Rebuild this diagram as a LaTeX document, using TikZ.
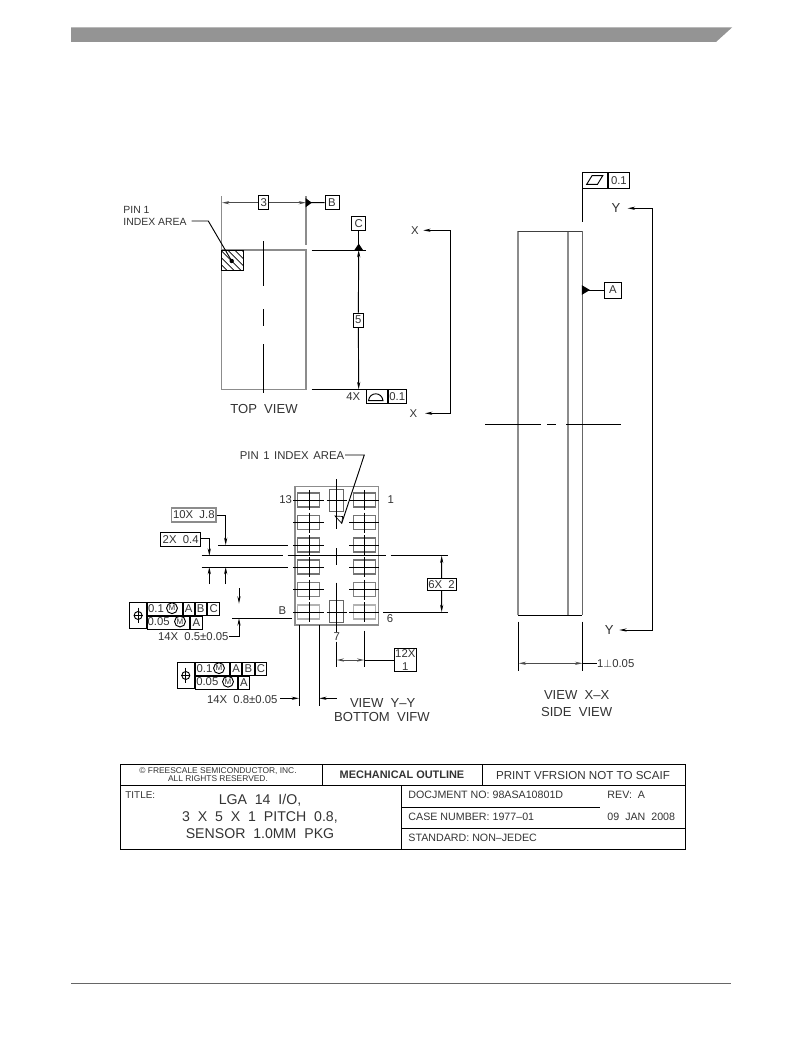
\documentclass[tikz,border=0pt]{standalone}
\usepackage{fontspec}
\setmainfont{Liberation Sans}
\usetikzlibrary{positioning,arrows.meta}

\begin{document}
\begin{tikzpicture}[x=0.75pt, y=-0.75pt, line width=0.7pt,
    lab/.style = {inner sep=0, text=black!80, font=\fontsize{8.5}{10}\selectfont},
    big/.style = {inner sep=0, text=black!80, font=\fontsize{9.8}{12}\selectfont},
    ttl/.style = {inner sep=0, text=black!80, font=\fontsize{10.6}{12}\selectfont},
    sml/.style = {inner sep=0, text=black!80, font=\fontsize{8}{9}\selectfont, anchor=west},
    tiny/.style = {inner sep=0, text=black!80, font=\fontsize{6.3}{7}\selectfont},
    boxed/.style = {lab, draw, rectangle, minimum width=#1*0.75pt, minimum height=10.5pt},
    cell/.style 2 args = {lab, draw, rectangle, anchor=north west, minimum width=#1*0.75pt, minimum height=#2*0.75pt},
    mm/.style = {lab, draw, circle, inner sep=0.6pt, font=\fontsize{6}{6}\selectfont},
    outl/.style = {draw=black!45, line width=1pt},
    pad/.style = {draw=black!#1, line width=1pt},
    tip/.style = {-{Stealth[length=5.5pt,width=2.4pt]}},
    tips/.style = {{Stealth[length=5.5pt,width=2.4pt]}-{Stealth[length=5.5pt,width=2.4pt]}},
    datum/.style = {fill=black, draw=black}]

\useasboundingbox (0,0) rectangle (802,1038);

% page furniture
\fill[black!42] (71,27.5) -- (732,27.5) -- (716,42) -- (71,42) -- cycle;
\draw[black!60] (71,983) -- (731,983);

% top view
\draw[outl] (221.7,250) rectangle (306,389.3);
\draw[outl] (221.7,196) -- (221.7,250);
\draw[outl] (306,196) -- (306,245);
\begin{scope}
\clip (221.7,250) rectangle (243.7,270.7);
\foreach \i in {-22,-15,...,20}
    \draw[line width=0.5pt] (221.7+\i,250) -- (221.7+\i+22,272);
\end{scope}
\draw (221.7,250) rectangle (243.7,270.7);
\draw (263.3,241) -- (263.3,286) (263.3,309) -- (263.3,326) (263.3,344) -- (263.3,393);

\node[lab, anchor=west, font=\fontsize{7.8}{10}\selectfont] (pin) at (123,210) {PIN 1};
\node[lab, anchor=west, font=\fontsize{7.8}{10}\selectfont] (idx) at (123,222) {INDEX AREA};
\coordinate (dot) at (231.7,261);
\coordinate (lead) at (191.7,221);
\fill (dot) circle (2.2);
\draw (lead) -- (208.3,221) -- (dot);

\node[boxed=10] (b3) at (263.7,202.7) {3};
\coordinate (d3l) at (222,202.7);
\coordinate (d3r) at (306,202.7);
\draw[tip, black!70] (b3) -- (d3l);
\draw[tip, black!70] (b3) -- (d3r);
\node[boxed=14] (bB) at (332,202.5) {B};
\draw (bB) -- (d3r);
\fill[datum] (306,199) -- (311,202.7) -- (306,206.4) -- cycle;

\node[boxed=14, minimum height=10.5pt] (bC) at (358.7,223.7) {C};
\coordinate (ct) at (358.7,250);
\coordinate (cb) at (358.7,389.3);
\draw (bC) -- (ct);
\fill[datum] (355,250) -- (358.7,244.5) -- (362.4,250) -- cycle;
\draw (311.7,250) -- (365.7,250);
\draw (311.7,389.3) -- (365.7,389.3);
\node[boxed=10] (b5) at (358.3,320) {5};
\draw[tip] (b5) -- (ct);
\draw[tip] (b5) -- (cb);

\node[cell={21}{14}] (pr1) at (365.7,389.3) {};
\node[cell={18.3}{14}] (pr2) at (pr1.north east) {0.1};
\node[lab, left=5 of pr1] (n4x) {4X};
\draw (368.5,400.7) .. controls (369.5,391.5) and (382,391.5) .. (383,400.7) -- cycle;
\node[big] (top) at (264,409.3) {TOP\ \ VIEW};

\node[lab] (x1) at (415,230.3) {X};
\node[lab] (x2) at (413.3,413.3) {X};
\coordinate (xt) at (450.7,230.3);
\coordinate (xb) at (450.7,413.3);
\draw[tip] (xt) -- (423.3,230.3);
\draw[tip] (xb) -- (425,413.3);
\draw (xt) -- (xb);

% side view
\draw[outl] (518,231) -- (518,615.3);
\draw[outl] (568,231) -- (568,615.3);
\draw[draw=black!60, line width=1pt] (582.3,231) -- (582.3,615.3);
\draw[black!75] (518,231) -- (582.3,231);
\draw (518,615.3) -- (582.3,615.3);
\draw (485,424) -- (541,424) (547,424) -- (556,424) (566,424) -- (621,424);

\node[cell={24.4}{16.6}] (fl1) at (582.3,171.7) {};
\node[cell={21.6}{16.6}] (fl2) at (fl1.north east) {0.1};
\draw (586.7,184.3) -- (592,175.7) -- (602.7,175.7) -- (597.5,184.3) -- cycle;
\draw (582.3,188.3) -- (582.3,221.7);

\node[boxed=17, minimum height=12pt] (bA) at (613,290) {A};
\coordinate (da) at (582.3,290);
\draw (bA) -- (da);
\fill[datum] (582.3,286) -- (589,290) -- (582.3,294) -- cycle;

\node[big] (y1) at (616,207.7) {Y};
\node[big] (y2) at (609.3,630) {Y};
\coordinate (yt) at (652.7,208.3);
\coordinate (yb) at (652.7,630);
\draw[tip] (yt) -- (627.7,208.3);
\draw[tip] (yb) -- (619.3,630);
\draw (yt) -- (yb);

\draw (518.7,621.7) -- (518.7,671);
\draw (582.3,621.7) -- (582.3,671);
\coordinate (sl) at (518.7,663.3);
\coordinate (sr) at (582.3,663.3);
\draw[tips, black!70] (sl) -- (sr);
\node[lab, anchor=west] (st) at (596.7,663.3) {1$\perp$0.05};
\draw (sr) -- (st.west);
\node[big] (vx) at (576.7,695) {VIEW\ \ X–X};
\node[big] (sv) at (576.7,711.7) {SIDE\ \ VIEW};

% bottom view
\draw[outl] (295,486.7) rectangle (378.3,625);
\foreach \r/\s in {500/55,522.5/55,545/55,567/55,589.5/50,612/30} {
    \draw[pad=\s] (297.7,\r-7) rectangle (319.3,\r+7);
    \draw[pad=\s] (353.3,\r-7) rectangle (375.7,\r+7);
    \draw (293,\r) -- (324,\r) (309.3,\r-10) -- (309.3,\r+10);
    \draw (349.3,\r) -- (379.3,\r) (364.3,\r-10) -- (364.3,\r+10);
}
\draw[pad=60] (329.3,489.3) rectangle (343.3,511.7);
\draw[pad=60] (329.3,600.7) rectangle (343.3,622.7);
\draw (326.7,500) -- (346.7,500) (326.7,612) -- (346.7,612);
\draw (336.7,479.3) -- (336.7,529.3) (336.7,548.3) -- (336.7,565) (336.7,582.7) -- (336.7,631.7);

\node[lab] (pa) at (292,455.7) {PIN\hspace{0.4em}1\hspace{0.4em}INDEX\hspace{0.4em}AREA};
\coordinate (pb) at (341.7,523.3);
\draw (345,455) -- (364.3,455) -- (pb);
\draw[line width=0.5pt] (335,516) -- (342.7,516.5) -- (pb) -- cycle;

\node[lab] (n13) at (285.7,499.7) {13};
\node[lab] (n1) at (390.7,500) {1};
\node[lab] (nB) at (282.3,610.7) {B};
\node[lab] (n6) at (390,619) {6};
\node[lab] (n7) at (336.7,636.7) {7};

\draw (201.7,555.7) -- (282.7,555.7) (287.7,555.7) -- (385.7,555.7) (390.7,555.7) -- (448.3,555.7);
\draw (218.3,545) -- (287.7,545);
\draw (201.7,567) -- (287.7,567);
\draw (383.3,612) -- (448.3,612);
\draw (232.3,618.3) -- (291.7,618.3);

\node[boxed=44.3, draw=black!45, line width=1pt] (b10) at (193.8,515) {10X\ \ J.8};
\draw[tip] (b10.east) -- (225.7,515) -- (225.7,545);
\node[boxed=40] (b2x) at (180.7,539.7) {2X\ \ 0.4};
\coordinate (l2x) at (200.7,538.3);
\draw[tip] (l2x) -- (209.3,538.3) -- (209.3,555.7);
\draw[tip] (209.3,584) -- (209.3,567);
\draw[tip] (225.7,584) -- (225.7,567);
\draw[tip] (239,588.3) -- (239,603.6);
\node[lab, anchor=east] (w05) at (229,636.7) {14X\ \ 0.5±0.05};
\draw[tip] (w05.east) -- (239,636.7) -- (239,618.3);

\node[boxed=29, minimum height=9pt] (b6x) at (441.5,584.3) {6X\ \ 2};
\coordinate (d6t) at (441.7,555.7);
\coordinate (d6b) at (441.7,612);
\draw[tip] (b6x) -- (d6t);
\draw[tip] (b6x) -- (d6b);

\draw (299,625) -- (299,706);
\draw (319.3,625) -- (319.3,706);
\draw (364.3,630.7) -- (364.3,666.7);
\draw (336.7,641.7) -- (336.7,666.7);
\coordinate (wl) at (336.7,660);
\coordinate (wr) at (364.3,660);
\draw[tips, black!70] (wl) -- (wr);
\node[lab, draw, minimum width=17pt, minimum height=17.5pt, align=center] (b12) at (405.3,660) {12X\\1};
\draw (wr) -- (b12.west);

% tolerance frames
\node[cell={16.7}{26.6}] (p1) at (129.3,601.7) {};
\node[cell={35}{13}] (p1a) at (p1.north east) {};
\node[cell={10.7}{13}] (p1b) at (p1a.north east) {A};
\node[cell={11.6}{13}] (p1c) at (p1b.north east) {B};
\node[cell={12.4}{13}] (p1d) at (p1c.north east) {C};
\node[cell={42.3}{13.6}] (p1e) at (p1a.south west) {};
\node[cell={11.7}{13.6}] (p1f) at (p1e.north east) {A};
\node[lab] (v1) at (156,608.2) {0.1};
\node[lab] (v2) at (158.6,621.5) {0.05};
\node[mm] (m1) at (172,608.2) {M};
\node[mm] (m2) at (180,621.5) {M};
\node[draw, circle, minimum size=6pt, inner sep=0] (s1) at (p1) {};
\draw ([yshift=2.5pt]s1.north) -- ([yshift=-2.5pt]s1.south);
\draw (s1.west) -- (s1.east);

\node[cell={17.3}{26.6}] (p2) at (176.7,661.7) {};
\node[cell={34.3}{13.3}] (p2a) at (p2.north east) {};
\node[cell={11}{13.3}] (p2b) at (p2a.north east) {A};
\node[cell={11.7}{13.3}] (p2c) at (p2b.north east) {B};
\node[cell={11.7}{13.3}] (p2d) at (p2c.north east) {C};
\node[cell={41.7}{13.3}] (p2e) at (p2a.south west) {};
\node[cell={11.6}{13.3}] (p2f) at (p2e.north east) {A};
\node[lab] (v3) at (204.5,668.2) {0.1};
\node[lab] (v4) at (207.3,681.7) {0.05};
\node[mm] (m3) at (219,668.2) {M};
\node[mm] (m4) at (228,681.7) {M};
\node[draw, circle, minimum size=6pt, inner sep=0] (s2) at (p2) {};
\draw ([yshift=2.5pt]s2.north) -- ([yshift=-2.5pt]s2.south);
\draw (s2.west) -- (s2.east);

\node[lab, anchor=east] (w08) at (278,699.3) {14X\ \ 0.8±0.05};
\coordinate (e1) at (299,698.3);
\coordinate (e2) at (319.3,698.3);
\coordinate (e3) at (336.7,698.3);
\draw[tip] (280,698.3) -- (e1);
\draw[tip] (e3) -- (e2);
\node[big] (vy) at (382.7,702.7) {VIEW\ \ Y–Y};
\node[big] (bv) at (382,716.7) {BOTTOM\ \ VIFW};

% title block
\draw (120,764) rectangle (685,849);
\draw (120,785) -- (685,785);
\draw (322,764) -- (322,785) (482,764) -- (482,785);
\draw (401,785) -- (401,849);
\draw (401,807) -- (600,807);
\draw (401,828) -- (685,828);
\node[tiny] (cp1) at (218,771) {© FREESCALE SEMICONDUCTOR, INC.};
\node[tiny] (cp2) at (218,779) {ALL RIGHTS RESERVED.};
\node[lab, font=\fontsize{8.2}{9}\bfseries] (mo) at (402,775) {MECHANICAL OUTLINE};
\node[lab, font=\fontsize{8.7}{9}\selectfont] (pv) at (583,775) {PRINT VFRSION NOT TO SCAIF};
\node[sml, font=\fontsize{7.4}{9}\selectfont] (tt) at (125,795) {TITLE:};
\node[ttl] (t1) at (260,800) {LGA\ \ 14\ \ I/O,};
\node[ttl] (t2) at (260,817) {3\ \ X\ \ 5\ \ X\ \ 1\ \ PITCH\ \ 0.8,};
\node[ttl] (t3) at (260,834) {SENSOR\ \ 1.0MM\ \ PKG};
\node[sml] (dn) at (408,795) {DOCJMENT NO: 98ASA10801D};
\node[sml] (rv) at (607,795) {REV:\ \ A};
\node[sml] (cn) at (408,817) {CASE NUMBER: 1977–01};
\node[sml] (dt) at (607,817) {09\ \ JAN\ \ 2008};
\node[sml] (sd) at (408,838) {STANDARD: NON–JEDEC};

\end{tikzpicture}
\end{document}
